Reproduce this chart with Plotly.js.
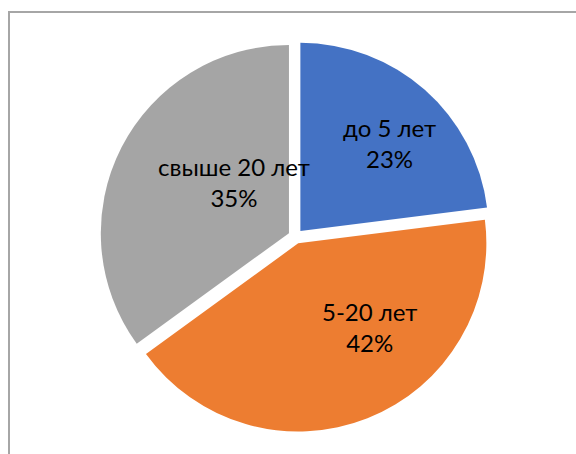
<!DOCTYPE html>
<html>
<head>
<meta charset="utf-8">
<script src="https://cdn.plot.ly/plotly-3.0.1.min.js"></script>
<style>html,body{margin:0;padding:0;background:#fff;}#chart{width:576px;height:454px;}</style>
</head>
<body>
<div id="chart"></div>
<script>
const labels = ["до 5 лет", "5-20 лет", "свыше 20 лет"];
const values = [23, 42, 35];
const colors = ["#4472C4", "#ED7D31", "#A5A5A5"];

const W = 576, H = 454;
const M = {l: 100, r: 85, t: 41, b: 22, pad: 0};
const pw = W - M.l - M.r, ph = H - M.t - M.b;
const px = x => (x - M.l) / pw;
const py = y => (H - M.b - y) / ph;

const total = values.reduce((a, b) => a + b, 0);
const pct = values.map(v => Math.round(v / total * 100) + "%");
// label block centres (pixels), as placed in the reference
const labelPos = [[389, 143], [370, 327], [234, 182]];

const annotations = labels.map((l, i) => ({
  xref: "paper", yref: "paper",
  x: px(labelPos[i][0]), y: py(labelPos[i][1]),
  xanchor: "center", yanchor: "middle", align: "center",
  text: l + "<br>" + pct[i], showarrow: false,
  font: {family: "Lato, 'Liberation Sans', sans-serif", size: 24, color: "#000000"}
}));

Plotly.newPlot("chart", [{
  type: "pie",
  labels: labels,
  values: values,
  sort: false,
  direction: "clockwise",
  rotation: 0,
  pull: [0.039, 0.039, 0.039],
  marker: {colors: colors, line: {width: 0}},
  textinfo: "none",
  hoverinfo: "none",
  showlegend: false
}], {
  width: W, height: H,
  margin: M,
  paper_bgcolor: "#ffffff",
  plot_bgcolor: "#ffffff",
  showlegend: false,
  annotations: annotations,
  shapes: [{
    type: "rect", xref: "paper", yref: "paper",
    x0: px(9), x1: px(700), y0: py(600), y1: py(12),
    line: {color: "#a6a6a6", width: 2}, fillcolor: "rgba(0,0,0,0)", layer: "above"
  }]
}, {displayModeBar: false, staticPlot: true});
</script>
</body>
</html>
